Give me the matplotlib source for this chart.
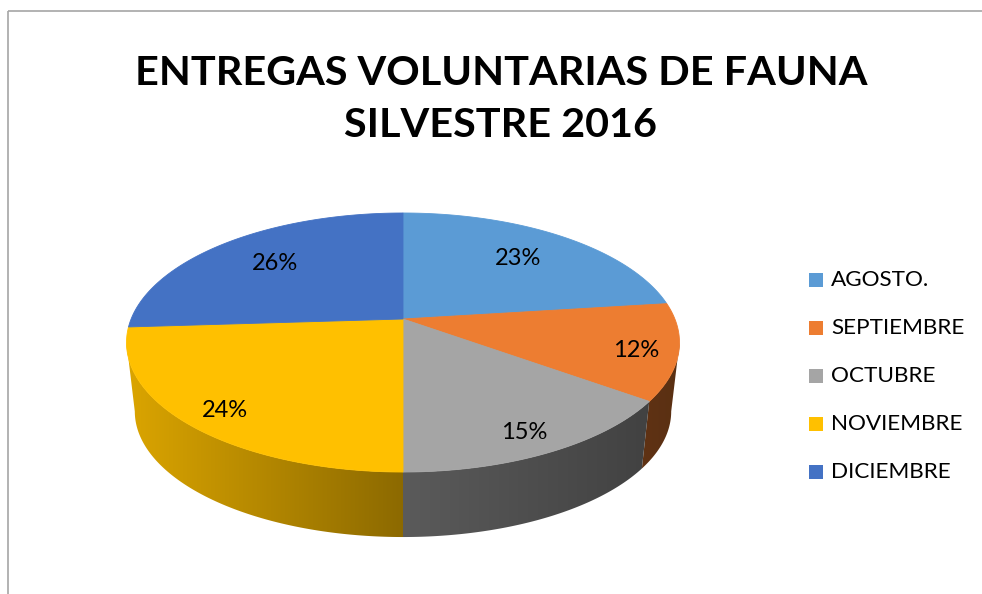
import numpy as np
import matplotlib
matplotlib.use("Agg")
import matplotlib.pyplot as plt
from matplotlib.patches import Polygon, Rectangle
from matplotlib.colors import to_rgb

# ---------------- data ----------------
categories = ["AGOSTO.", "SEPTIEMBRE", "OCTUBRE", "NOVIEMBRE", "DICIEMBRE"]
values = [23, 12, 15, 24, 26]
pct_labels = ["23%", "12%", "15%", "24%", "26%"]
colors = ["#5B9BD5", "#ED7D31", "#A5A5A5", "#FFC000", "#4472C4"]
title_lines = ["ENTREGAS VOLUNTARIAS DE FAUNA", "SILVESTRE 2016"]

# ---------------- figure ----------------
W, H = 982, 594
fig = plt.figure(figsize=(W / 100, H / 100), dpi=100)
ax = fig.add_axes([0, 0, 1, 1])
ax.set_xlim(0, W)
ax.set_ylim(H, 0)
ax.axis("off")

FONT = ["Lato", "DejaVu Sans"]

# perspective projection of the pie disc (pixel space)
CX, CY = 403.0, 319.0
RX = 271.9
BY = 67.35
PC = 0.1815
DEPTH = 69.6
SHRINK = 0.97


def top_pt(t, r=1.0):
    u = r * np.cos(t)
    v = r * np.sin(t)
    d = 1 + PC * v
    return CX + RX * u / d, (CY - BY * v) / d


def bot_pt(t):
    x, y = top_pt(t)
    return CX + SHRINK * (x - CX), CY + DEPTH + SHRINK * (y - CY)


def shade(x):
    return np.interp(x, [126, 403, 679], [0.86, 0.55, 0.38])


vals = np.array(values, dtype=float)
fracs = vals / vals.sum()
starts = np.pi / 2 - 2 * np.pi * np.concatenate([[0], np.cumsum(fracs)[:-1]])
ends = starts - 2 * np.pi * fracs

t_lo = -np.pi + np.arcsin(PC)
t_hi = -np.arcsin(PC)

# side walls
gx0, gx1 = 115, 690
gxs = np.linspace(gx0, gx1, 600)
for s, e, c in zip(starts, ends, colors):
    a = max(e, t_lo)
    b = min(s, t_hi)
    if b <= a:
        continue
    ts = np.linspace(b, a, 120)
    tx, ty = top_pt(ts)
    bx, by = bot_pt(ts[::-1])
    pts = np.column_stack([np.concatenate([tx, bx]), np.concatenate([ty, by])])
    poly = Polygon(pts, closed=True, fill=False, lw=0)
    ax.add_patch(poly)
    base = np.array(to_rgb(c))
    row = np.clip(base[None, :] * shade(gxs)[:, None], 0, 1)
    img = np.repeat(row[None, :, :], 2, axis=0)
    im = ax.imshow(img, extent=(gx0, gx1, 560, 280), aspect="auto",
                   interpolation="bilinear", zorder=1)
    im.set_clip_path(poly)

# top faces
for s, e, c in zip(starts, ends, colors):
    ts = np.linspace(s, e, 200)
    tx, ty = top_pt(ts)
    pts = np.column_stack([np.concatenate([[CX], tx]), np.concatenate([[CY], ty])])
    ax.add_patch(Polygon(pts, closed=True, facecolor=c, edgecolor=c, lw=0.6, zorder=3))

# percentage labels
for s, e, lab in zip(starts, ends, pct_labels):
    m = (s + e) / 2
    r = 0.70 if np.sin(m) > 0 else 0.85
    x, y = top_pt(m, r)
    if np.sin(m) < 0:
        y += 4
    ax.text(x, y, lab, ha="center", va="center", fontsize=17, family=FONT,
            color="black", zorder=5)

# title
ax.text(501, 85, title_lines[0], ha="center", va="baseline", fontsize=29.8,
        fontweight="bold", family=FONT, color="black")
ax.text(501, 137, title_lines[1], ha="center", va="baseline", fontsize=29.8,
        fontweight="bold", family=FONT, color="black")

# legend
for i, (cat, c) in enumerate(zip(categories, colors)):
    yc = 279.5 + 48 * i
    ax.add_patch(Rectangle((809, yc - 7), 14, 14, facecolor=c, edgecolor="none"))
    ax.text(831, yc, cat, ha="left", va="center", fontsize=16.2, family=FONT,
            color="black")

# chart frame
ax.plot([8, W], [11, 11], color="#a6a6a6", lw=1.2, solid_capstyle="butt")
ax.plot([8, 8], [11, H], color="#a6a6a6", lw=1.2, solid_capstyle="butt")

fig.savefig("out.png", dpi=100)
